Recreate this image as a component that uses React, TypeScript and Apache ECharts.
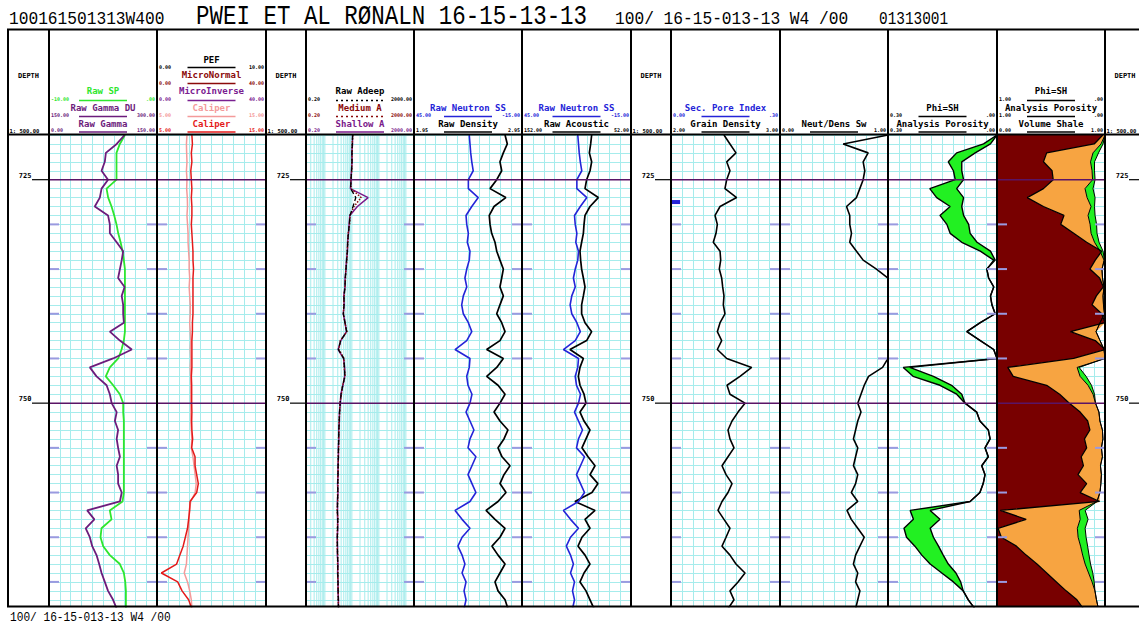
import React, { useEffect, useRef } from 'react';
import * as echarts from 'echarts';

// ---------- depth index (m) ----------
const DEPTH = [720, 721, 722, 723, 724, 725, 726, 727, 728, 729, 730, 731, 732, 733, 734, 735, 736, 737, 738, 739, 740, 741, 742, 743, 744, 745, 746, 747, 748, 749, 750, 751, 752, 753, 754, 755, 756, 757, 758, 759, 760, 761, 762, 763, 764, 765, 766, 767, 768, 769, 770, 771, 772, 773];
const DEPTH_LABELS = [725, 750];
const MINOR_DEPTHS = [730, 735, 740, 745, 755, 760, 765, 770];
const LOG_GRID = [0.2, 0.3, 0.4, 0.5, 0.6, 0.7, 0.8, 0.9, 1, 2, 3, 4, 5, 6, 7, 8, 9, 10, 20, 30, 40, 50, 60, 70, 80, 90, 100, 200, 300, 400, 500, 600, 700, 800, 900, 1000, 2000];

// ---------- curves (one value per DEPTH) ----------
const GAMMA = [105, 94, 79, 77.5, 73, 82, 73, 70.6, 63.6, 82, 84.5, 84.5, 94, 103, 101, 98.5, 96, 105, 101, 103, 103, 104, 84.5, 98.5, 115, 89, 56.7, 66, 80, 84.5, 87, 94, 91.5, 96, 94, 96, 98.5, 94, 96, 96, 101, 98.5, 53, 63, 51, 56.7, 60, 66, 69.7, 73, 77.5, 82, 89, 94];
const SP = [-2.97, -3.44, -3.75, -3.75, -3.75, -3.75, -4.67, -4.52, -4.21, -3.96, -3.75, -3.59, -3.37, -3.19, -3.07, -2.97, -2.97, -2.97, -2.97, -2.97, -2.97, -2.97, -2.97, -3.07, -3.28, -3.59, -4.37, -4.74, -4.06, -3.44, -3.13, -3.13, -3.07, -3.07, -3.07, -3.07, -3.07, -3.07, -3.07, -3.07, -3.07, -3.19, -4.37, -4.21, -5.14, -5.23, -4.98, -4.37, -3.44, -3.07, -2.94, -2.88, -2.88, -2.88];
const CAL_RED = [8.2, 8.25, 8.15, 8.2, 8.1, 8.15, 8.2, 8.15, 8.2, 8.2, 8.15, 8.2, 8.25, 8.3, 8.3, 8.35, 8.3, 8.3, 8.3, 8.3, 8.3, 8.25, 8.25, 8.2, 8.2, 8.2, 8.2, 8.15, 8.18, 8.18, 8.18, 8.2, 8.18, 8.2, 8.27, 8.18, 8.49, 8.49, 8.64, 8.79, 8.64, 8.03, 8.0, 7.9, 7.8, 7.6, 7.4, 7.1, 6.8, 5.4, 6.9, 7.3, 7.9, 8.2];
const CAL_PINK = [7.75, 7.7, 7.72, 7.75, 7.7, 7.75, 7.72, 7.78, 7.8, 7.75, 7.8, 7.85, 7.85, 7.9, 7.95, 7.95, 8.0, 7.95, 8.0, 8.05, 8.05, 8.0, 8.05, 8.1, 8.05, 8.1, 8.05, 8.1, 8.1, 8.1, 8.1, 8.1, 8.1, 8.15, 8.2, 8.15, 8.3, 8.4, 8.5, 8.6, 8.5, 8.1, 7.95, 7.95, 7.9, 7.85, 7.8, 7.75, 7.7, 7.5, 7.8, 8.0, 8.15, 8.2];
const RES_DEEP = [10.7, 10.4, 10.1, 10.1, 9.8, 9.3, 9.0, 14, 11, 8.5, 8.05, 7.4, 7.0, 6.8, 6.4, 6.06, 5.72, 5.56, 5.11, 5.11, 4.83, 5.56, 6.4, 3.84, 3.15, 5.0, 5.3, 5.5, 4.6, 4.0, 3.7, 3.5, 3.4, 3.3, 3.25, 3.2, 3.15, 3.1, 3.06, 3.0, 3.0, 2.95, 2.9, 3.0, 2.95, 2.9, 2.9, 2.95, 3.0, 3.0, 3.06, 3.1, 3.15, 3.2];
const RES_MED = [10.9, 10.2, 10.3, 9.9, 9.9, 9.1, 9.3, 22, 12, 8.6, 8.2, 7.3, 7.1, 6.7, 6.5, 6.0, 5.8, 5.5, 5.2, 5.0, 4.9, 5.5, 6.6, 3.7, 3.3, 5.1, 5.2, 5.6, 4.5, 4.1, 3.6, 3.55, 3.35, 3.3, 3.2, 3.25, 3.1, 3.15, 3.0, 3.05, 2.95, 3.0, 2.85, 3.05, 2.9, 2.95, 2.85, 3.0, 2.95, 3.05, 3.0, 3.15, 3.1, 3.25];
const RES_SHAL = [10.5, 10.6, 9.9, 10.2, 9.6, 9.4, 8.8, 40, 16, 8.4, 7.9, 7.5, 6.9, 6.9, 6.3, 6.1, 5.6, 5.6, 5.0, 5.2, 4.8, 5.6, 6.3, 3.9, 3.1, 4.9, 5.4, 5.4, 4.7, 3.9, 3.75, 3.45, 3.45, 3.25, 3.3, 3.15, 3.2, 3.05, 3.1, 2.95, 3.05, 2.9, 2.95, 2.95, 3.0, 2.85, 2.95, 2.9, 3.05, 2.95, 3.1, 3.05, 3.2, 3.15];
const NEUTRON = [14.3, 13.9, 13.5, 12.9, 12.1, 14.8, 14.8, 9.3, 12.9, 16.1, 15.7, 14.8, 15.4, 13.9, 14.3, 15.7, 16.7, 15.7, 17.6, 18.5, 17.6, 14.8, 12.9, 15.7, 22.2, 13.9, 14.3, 15.7, 15.0, 12.8, 13.9, 16.1, 13.9, 11.7, 13.9, 15.0, 10.6, 12.8, 15.0, 12.8, 10.6, 13.9, 22.2, 18.3, 13.9, 18.3, 20.6, 18.3, 16.7, 18.3, 16.1, 17.2, 16.1, 17.2];
const DENSITY = [2.793, 2.814, 2.777, 2.746, 2.762, 2.716, 2.654, 2.8, 2.691, 2.647, 2.654, 2.669, 2.7, 2.716, 2.746, 2.777, 2.762, 2.746, 2.777, 2.746, 2.716, 2.762, 2.793, 2.746, 2.623, 2.777, 2.716, 2.623, 2.728, 2.793, 2.746, 2.691, 2.746, 2.82, 2.783, 2.728, 2.765, 2.839, 2.783, 2.746, 2.802, 2.728, 2.617, 2.7, 2.793, 2.746, 2.672, 2.728, 2.793, 2.746, 2.7, 2.728, 2.793, 2.82];
const ACOUSTIC = [88.1, 89.0, 90.2, 88.1, 89.6, 92.7, 94.2, 82.0, 89.6, 94.2, 95.1, 95.7, 97.3, 98.8, 98.2, 97.3, 95.7, 94.2, 95.7, 97.3, 97.3, 94.2, 88.1, 92.7, 108.0, 95.7, 98.8, 100.3, 98.8, 95.1, 93.3, 98.8, 95.1, 89.6, 93.3, 97.0, 91.4, 85.0, 89.6, 82.3, 87.8, 103.4, 85.0, 94.2, 89.6, 97.0, 100.6, 94.2, 89.6, 95.1, 98.8, 93.3, 89.6, 85.9];
const GRAIN_DENSITY = [2.486, 2.541, 2.596, 2.511, 2.541, 2.511, 2.495, 2.602, 2.45, 2.404, 2.425, 2.413, 2.388, 2.45, 2.456, 2.443, 2.465, 2.474, 2.486, 2.48, 2.495, 2.45, 2.425, 2.465, 2.425, 2.511, 2.74, 2.633, 2.514, 2.541, 2.679, 2.615, 2.56, 2.523, 2.541, 2.578, 2.523, 2.468, 2.505, 2.56, 2.523, 2.468, 2.431, 2.486, 2.541, 2.505, 2.468, 2.541, 2.596, 2.679, 2.615, 2.541, 2.578, 2.523];
const SPI_DEPTH = [727.5];
const SPI = [0.025];
const SW = [1.0, 0.585, 0.816, 0.77, 0.785, 0.77, 0.739, 0.708, 0.616, 0.646, 0.646, 0.662, 0.646, 0.708, 0.77, 0.893, 1, 1, 1, 1, 1, 1, 1, 1, 1, 1, 0.95, 0.82, 0.78, 0.75, 0.72, 0.75, 0.72, 0.7, 0.68, 0.72, 0.7, 0.68, 0.72, 0.7, 0.66, 0.72, 0.62, 0.66, 0.72, 0.78, 0.74, 0.7, 0.68, 0.72, 0.7, 0.74, 0.72, 0.7];
const POROSITY = [0, 0.037, 0.111, 0.134, 0.12, 0.115, 0.185, 0.166, 0.129, 0.157, 0.138, 0.129, 0.097, 0.046, 0.009, 0.028, 0.023, 0.009, 0.018, 0.014, 0.005, 0.046, 0.083, 0.046, 0.009, 0, 0.258, 0.231, 0.157, 0.111, 0.088, 0.056, 0.047, 0.024, 0.019, 0.033, 0.024, 0.042, 0.033, 0.038, 0.047, 0.074, 0.239, 0.23, 0.256, 0.249, 0.226, 0.207, 0.184, 0.152, 0.12, 0.093, 0.079, 0.061];
const PHI_SH = [0, 0.018, 0.06, 0.097, 0.097, 0.092, 0.111, 0.092, 0.097, 0.092, 0.078, 0.074, 0.055, 0.018, 0.005, 0.028, 0.023, 0.009, 0.018, 0.014, 0.005, 0.046, 0.083, 0.046, 0.009, 0, 0.24, 0.175, 0.125, 0.097, 0.088, 0.056, 0.047, 0.024, 0.019, 0.033, 0.024, 0.042, 0.033, 0.038, 0.047, 0.074, 0.184, 0.157, 0.184, 0.175, 0.161, 0.148, 0.134, 0.113, 0.1, 0.093, 0.079, 0.061];
const VSH = [0.98, 0.9, 0.46, 0.43, 0.51, 0.52, 0.43, 0.28, 0.43, 0.62, 0.59, 0.71, 0.83, 0.97, 0.91, 0.86, 0.95, 0.985, 0.92, 0.88, 0.97, 1.0, 0.68, 0.91, 1.0, 0.71, 0.1, 0.15, 0.46, 0.58, 0.67, 0.77, 0.84, 0.86, 0.81, 0.83, 0.78, 0.8, 0.75, 0.83, 0.77, 0.95, 0.03, 0.27, 0.01, 0.04, 0.18, 0.27, 0.37, 0.46, 0.55, 0.64, 0.74, 0.8];

// ---------- header texts ----------
const TITLE_LEFT = '100161501313W400';
const TITLE_MAIN = 'PWEI ET AL RØNALN 16-15-13-13';
const TITLE_UWI = '100/ 16-15-013-13 W4 /00';
const TITLE_CODE = '01313001';
const FOOTER = '100/ 16-15-013-13 W4 /00';

const C = {
  grid: '#a6ecec', gamma: '#6c1c7c', sp: '#2ee62e', dred: '#8b0a0a', minv: '#7a2090', pink: '#f49a9a', red: '#e41a1a',
  shal: '#7a1a8a', blue: '#2424d8', vshFill: '#780000', orange: '#f7a441', green: '#22f022', mark: '#9a9ae0', depthLine: '#5a1466',
};

const HEADER_ROWS = [
  { t: 'gr', row: 2, name: 'Raw SP', color: C.sp, lo: '-10.00', hi: '.00' },
  { t: 'gr', row: 1, name: 'Raw Gamma DU', color: C.gamma, lo: '150.00', hi: '300.00' },
  { t: 'gr', row: 0, name: 'Raw Gamma', color: C.gamma, lo: '0.00', hi: '150.00' },
  { t: 'cal', row: 4, name: 'PEF', color: '#000', lo: '0.00', hi: '10.00' },
  { t: 'cal', row: 3, name: 'MicroNormal', color: C.dred, lo: '0.00', hi: '40.00' },
  { t: 'cal', row: 2, name: 'MicroInverse', color: C.minv, lo: '0.00', hi: '40.00' },
  { t: 'cal', row: 1, name: 'Caliper', color: C.pink, lo: '5.00', hi: '15.00' },
  { t: 'cal', row: 0, name: 'Caliper', color: C.red, lo: '5.00', hi: '15.00' },
  { t: 'res', row: 2, name: 'Raw Adeep', color: '#000', lo: '0.20', hi: '2000.00', dash: true },
  { t: 'res', row: 1, name: 'Medium A', color: C.dred, lo: '0.20', hi: '2000.00', dash: true },
  { t: 'res', row: 0, name: 'Shallow A', color: C.shal, lo: '0.20', hi: '2000.00' },
  { t: 'den', row: 1, name: 'Raw Neutron SS', color: C.blue, lo: '45.00', hi: '-15.00' },
  { t: 'den', row: 0, name: 'Raw Density', color: '#000', lo: '1.95', hi: '2.95' },
  { t: 'ac', row: 1, name: 'Raw Neutron SS', color: C.blue, lo: '45.00', hi: '-15.00' },
  { t: 'ac', row: 0, name: 'Raw Acoustic', color: '#000', lo: '152.00', hi: '52.00' },
  { t: 'gd', row: 1, name: 'Sec. Pore Index', color: C.blue, lo: '0.00', hi: '.30' },
  { t: 'gd', row: 0, name: 'Grain Density', color: '#000', lo: '2.00', hi: '3.00' },
  { t: 'sw', row: 0, name: 'Neut/Dens Sw', color: '#000', lo: '0.00', hi: '1.00' },
  { t: 'phi', row: 1, name: 'Phi=SH', color: '#000', lo: '0.30', hi: '.00' },
  { t: 'phi', row: 0, name: 'Analysis Porosity', color: '#000', lo: '0.30', hi: '.00' },
  { t: 'vsh', row: 2, name: 'Phi=SH', color: '#000', lo: '1.00', hi: '.00' },
  { t: 'vsh', row: 1, name: 'Analysis Porosity', color: '#000', lo: '1.00', hi: '.00' },
  { t: 'vsh', row: 0, name: 'Volume Shale', color: '#000', lo: '0.00', hi: '1.00' },
];

// ---------- layout ----------
const TRACKS = [
  { key: 'gr', l: 49, r: 157 },
  { key: 'cal', l: 157, r: 266 },
  { key: 'res', l: 306, r: 414 },
  { key: 'den', l: 414, r: 522 },
  { key: 'ac', l: 522, r: 631 },
  { key: 'gd', l: 671, r: 780 },
  { key: 'sw', l: 780, r: 888 },
  { key: 'phi', l: 888, r: 997 },
  { key: 'vsh', l: 997, r: 1105 },
];
const DEPTH_COLS = [{ l: 8, r: 49 }, { l: 266, r: 306 }, { l: 631, r: 671 }, { l: 1105, r: 1145 }];
const SEPARATORS = [8, 49, 157, 266, 306, 414, 522, 631, 671, 780, 888, 997, 1105];
const TOP = 135;
const GRID_H = 471.5;
const DMIN = 720;
const DMAX = 772.75;
const FRAME_TOP = 29.5;
const HEAD_BOTTOM = 134.5;
const FRAME_BOTTOM = 606.5;
const NAME_Y = [123.5, 107.5, 91, 75, 59.5];
const LINE_Y = [132, 116.5, 100.5, 83.5, 67.5];
const VAL_Y = [130, 115, 99, 82.5, 67];
const MONO = "'DejaVu Sans Mono', monospace";
const TMONO = "'Liberation Mono', monospace";

function buildOption() {
  const grid: any[] = [];
  const xAxis: any[] = [];
  const yAxis: any[] = [];
  const series: any[] = [];
  const G: any[] = [];
  const ax: Record<string, number> = {};
  const gi: Record<string, number> = {};
  const hidden = { axisLine: { show: false }, axisTick: { show: false }, axisLabel: { show: false } };

  const addGrid = (key: string, l: number, r: number, lines: boolean, vlines: boolean) => {
    const g = grid.length;
    gi[key] = g;
    grid.push({ left: l, top: TOP, width: r - l, height: GRID_H });
    yAxis.push({ gridIndex: g, type: 'value', inverse: true, min: DMIN, max: DMAX, interval: 1, ...hidden,
      splitLine: { show: lines, lineStyle: { color: C.grid, width: 1 } } });
    ax[key + ':grid'] = xAxis.length;
    xAxis.push({ gridIndex: g, type: 'value', min: 0, max: 10, interval: 1, ...hidden,
      splitLine: { show: vlines, lineStyle: { color: C.grid, width: 1 } } });
  };
  const addAxis = (key: string, name: string, cfg: any) => {
    ax[key + ':' + name] = xAxis.length;
    xAxis.push({ gridIndex: gi[key], type: 'value', show: false, ...cfg });
  };

  TRACKS.forEach((t) => addGrid(t.key, t.l, t.r, true, t.key !== 'res'));
  DEPTH_COLS.forEach((c, i) => addGrid('d' + i, c.l, c.r, false, false));

  addAxis('gr', 'gamma', { min: 0, max: 150 });
  addAxis('gr', 'sp', { min: -10, max: 0 });
  addAxis('cal', 'cal', { min: 5, max: 15 });
  addAxis('res', 'res', { type: 'log', logBase: 10, min: 0.2, max: 2000 });
  addAxis('den', 'den', { min: 1.95, max: 2.95 });
  addAxis('den', 'neu', { min: -15, max: 45, inverse: true });
  addAxis('ac', 'ac', { min: 52, max: 152, inverse: true });
  addAxis('ac', 'neu', { min: -15, max: 45, inverse: true });
  addAxis('gd', 'gd', { min: 2, max: 3 });
  addAxis('gd', 'spi', { min: 0, max: 0.3 });
  addAxis('sw', 'sw', { min: 0, max: 1 });
  addAxis('phi', 'por', { min: 0, max: 0.3, inverse: true });
  addAxis('vsh', 'frac', { min: 0, max: 1 });
  addAxis('vsh', 'por', { min: 0, max: 1, inverse: true });

  const line = (key: string, a: string, vals: number[], color: string, width = 1.6, type: any = 'solid', z = 5) => {
    series.push({ type: 'line', xAxisIndex: ax[key + ':' + a], yAxisIndex: gi[key],
      data: DEPTH.map((d, i) => [vals[i], d]), symbol: 'none', showSymbol: false, clip: true, silent: true, z,
      lineStyle: { color, width, type } });
  };
  const fill = (key: string, a: string, leftVals: number[], rightVals: number[], color: string, z = 3) => {
    series.push({ type: 'custom', xAxisIndex: ax[key + ':' + a], yAxisIndex: gi[key], clip: true, silent: true, z,
      data: [[leftVals[0], DEPTH[0]]],
      renderItem: (_p: any, api: any) => {
        const pts: number[][] = [];
        for (let i = 0; i < DEPTH.length; i++) pts.push(api.coord([rightVals[i], DEPTH[i]]));
        for (let i = DEPTH.length - 1; i >= 0; i--) pts.push(api.coord([leftVals[i], DEPTH[i]]));
        return { type: 'polygon', shape: { points: pts }, style: { fill: color, stroke: 'none' } };
      } });
  };

  // resistivity log grid
  series.push({ type: 'custom', xAxisIndex: ax['res:res'], yAxisIndex: gi.res, silent: true, z: 1,
    data: LOG_GRID.map((v) => [v, DEPTH[0]]),
    renderItem: (params: any, api: any) => {
      const cs = params.coordSys;
      const x = api.coord([api.value(0), DEPTH[0]])[0];
      return { type: 'line', shape: { x1: x, y1: cs.y, x2: x, y2: cs.y + cs.height }, style: { stroke: C.grid, lineWidth: 1 } };
    } });

  // fills
  const zeros = DEPTH.map(() => 0);
  fill('phi', 'por', POROSITY, PHI_SH, C.green);
  fill('vsh', 'frac', zeros, VSH, C.vshFill);
  fill('vsh', 'frac', VSH, VSH.map((v, i) => Math.max(v, 1 - POROSITY[i])), C.orange);
  fill('vsh', 'por', POROSITY, PHI_SH, C.green);

  // curves
  line('gr', 'sp', SP, C.sp, 1.8);
  line('gr', 'gamma', GAMMA, C.gamma, 1.8);
  line('cal', 'cal', CAL_PINK, C.pink, 1.5);
  line('cal', 'cal', CAL_RED, C.red, 1.5);
  line('res', 'res', RES_SHAL, C.shal, 1.5);
  line('res', 'res', RES_MED, C.dred, 1.5, 'dotted');
  line('res', 'res', RES_DEEP, '#000', 1.3, 'dashed');
  line('den', 'den', DENSITY, '#000', 1.7);
  line('den', 'neu', NEUTRON, C.blue, 1.6);
  line('ac', 'ac', ACOUSTIC, '#000', 1.7);
  line('ac', 'neu', NEUTRON, C.blue, 1.6);
  line('gd', 'gd', GRAIN_DENSITY, '#000', 1.6);
  line('sw', 'sw', SW, '#000', 1.6);
  line('phi', 'por', POROSITY, '#000', 1.4);
  line('phi', 'por', PHI_SH, '#000', 1.4);
  line('vsh', 'frac', VSH, '#000', 1.3);
  line('vsh', 'por', POROSITY, '#000', 1);
  line('vsh', 'por', PHI_SH, '#000', 1);

  // secondary pore index marker
  series.push({ type: 'custom', xAxisIndex: ax['gd:spi'], yAxisIndex: gi.gd, silent: true, z: 6,
    data: SPI_DEPTH.map((d, i) => [SPI[i], d]),
    renderItem: (_p: any, api: any) => {
      const a = api.coord([0, api.value(1)]);
      const b = api.coord([api.value(0), api.value(1)]);
      return { type: 'rect', shape: { x: a[0], y: a[1] - 2, width: b[0] - a[0], height: 4 }, style: { fill: C.blue } };
    } });

  // depth markers in each data track
  TRACKS.forEach((t) => {
    series.push({ type: 'custom', xAxisIndex: ax[t.key + ':grid'], yAxisIndex: gi[t.key], silent: true, z: 8,
      data: MINOR_DEPTHS.map((d) => [0, d]),
      renderItem: (params: any, api: any) => {
        const cs = params.coordSys;
        const y = api.coord([0, api.value(1)])[1];
        return { type: 'group', children: [
          { type: 'line', shape: { x1: cs.x + 1, y1: y, x2: cs.x + 10, y2: y }, style: { stroke: C.mark, lineWidth: 2 } },
          { type: 'line', shape: { x1: cs.x + cs.width - 10, y1: y, x2: cs.x + cs.width - 1, y2: y }, style: { stroke: C.mark, lineWidth: 2 } },
        ] };
      } });
    series.push({ type: 'custom', xAxisIndex: ax[t.key + ':grid'], yAxisIndex: gi[t.key], silent: true, z: 9,
      data: DEPTH_LABELS.map((d) => [0, d]),
      renderItem: (params: any, api: any) => {
        const cs = params.coordSys;
        const y = api.coord([0, api.value(1)])[1];
        return { type: 'line', shape: { x1: cs.x, y1: y, x2: cs.x + cs.width, y2: y }, style: { stroke: C.depthLine, lineWidth: 1.5 } };
      } });
  });

  // depth column labels
  DEPTH_COLS.forEach((c, i) => {
    series.push({ type: 'custom', xAxisIndex: ax['d' + i + ':grid'], yAxisIndex: gi['d' + i], silent: true, z: 9,
      data: DEPTH_LABELS.map((d) => [0, d]),
      renderItem: (params: any, api: any) => {
        const cs = params.coordSys;
        const d = api.value(1);
        const y = api.coord([0, d])[1];
        const xl = cs.x + 24;
        return { type: 'group', children: [
          { type: 'text', x: xl - 0.5, y: y - 0.5, style: { text: String(d), font: `bold 7px ${MONO}`, fill: '#000', align: 'right', textAlign: 'right', verticalAlign: 'bottom', textVerticalAlign: 'bottom' } },
          { type: 'line', shape: { x1: xl, y1: y, x2: cs.x + cs.width, y2: y }, style: { stroke: '#000', lineWidth: 1.2 } },
        ] };
      } });
  });

  // ---------- graphic: frame + headers ----------
  const gline = (x1: number, y1: number, x2: number, y2: number, stroke = '#000', w = 2, dash?: number[]) =>
    G.push({ type: 'line', silent: true, z: 100, shape: { x1, y1, x2, y2 }, style: { stroke, lineWidth: w, lineDash: dash } });
  const gtext = (x: number, y: number, text: string, font: string, fill = '#000', align = 'left', va = 'middle', sx = 1) =>
    G.push({ type: 'text', silent: true, z: 100, x, y, scaleX: sx,
      style: { text, font, fill, align, textAlign: align, verticalAlign: va, textVerticalAlign: va } });

  gline(7, FRAME_TOP, 1139, FRAME_TOP);
  gline(7, HEAD_BOTTOM, 1139, HEAD_BOTTOM);
  gline(7, FRAME_BOTTOM, 1139, FRAME_BOTTOM);
  SEPARATORS.forEach((x) => gline(x, FRAME_TOP, x, FRAME_BOTTOM));

  gtext(9, 19, TITLE_LEFT, `18px ${TMONO}`, '#000', 'left', 'middle', 0.9);
  gtext(196, 16, TITLE_MAIN, `27px ${TMONO}`, '#000', 'left', 'middle', 0.833);
  gtext(615, 19, TITLE_UWI, `18px ${TMONO}`, '#000', 'left', 'middle', 0.9);
  gtext(879, 19, TITLE_CODE, `18px ${TMONO}`, '#000', 'left', 'middle', 0.8);
  gtext(10, 617, FOOTER, `12px ${TMONO}`, '#000', 'left', 'middle', 0.93);

  DEPTH_COLS.forEach((c) => {
    gtext((c.l + c.r) / 2, 76, 'DEPTH', `bold 7px ${MONO}`, '#000', 'center');
    gtext(c.l + 1.5, 131, '1: 500.00', `bold 5.5px ${MONO}`, '#000', 'left');
  });

  HEADER_ROWS.forEach((h) => {
    const t = TRACKS.find((k) => k.key === h.t)!;
    const cx = (t.l + t.r) / 2;
    gtext(cx, NAME_Y[h.row], h.name, `bold 9px ${MONO}`, h.color, 'center');
    gline(cx - 24, LINE_Y[h.row], cx + 24, LINE_Y[h.row], h.color, 1.5, h.dash ? [2, 3] : undefined);
    gtext(t.l + 2, VAL_Y[h.row], h.lo, `bold 5px ${MONO}`, h.color, 'left');
    gtext(t.r - 2, VAL_Y[h.row], h.hi, `bold 5px ${MONO}`, h.color, 'right');
  });

  return { animation: false, backgroundColor: '#fff', grid, xAxis, yAxis, series, graphic: { elements: G } };
}

export default function App() {
  const ref = useRef<HTMLDivElement>(null);
  useEffect(() => {
    const chart = echarts.init(ref.current!, null, { renderer: 'svg' });
    chart.setOption(buildOption() as any);
    return () => chart.dispose();
  }, []);
  return <div ref={ref} style={{ position: 'fixed', left: 0, top: 0, width: 1139, height: 628, background: '#fff' }} />;
}
